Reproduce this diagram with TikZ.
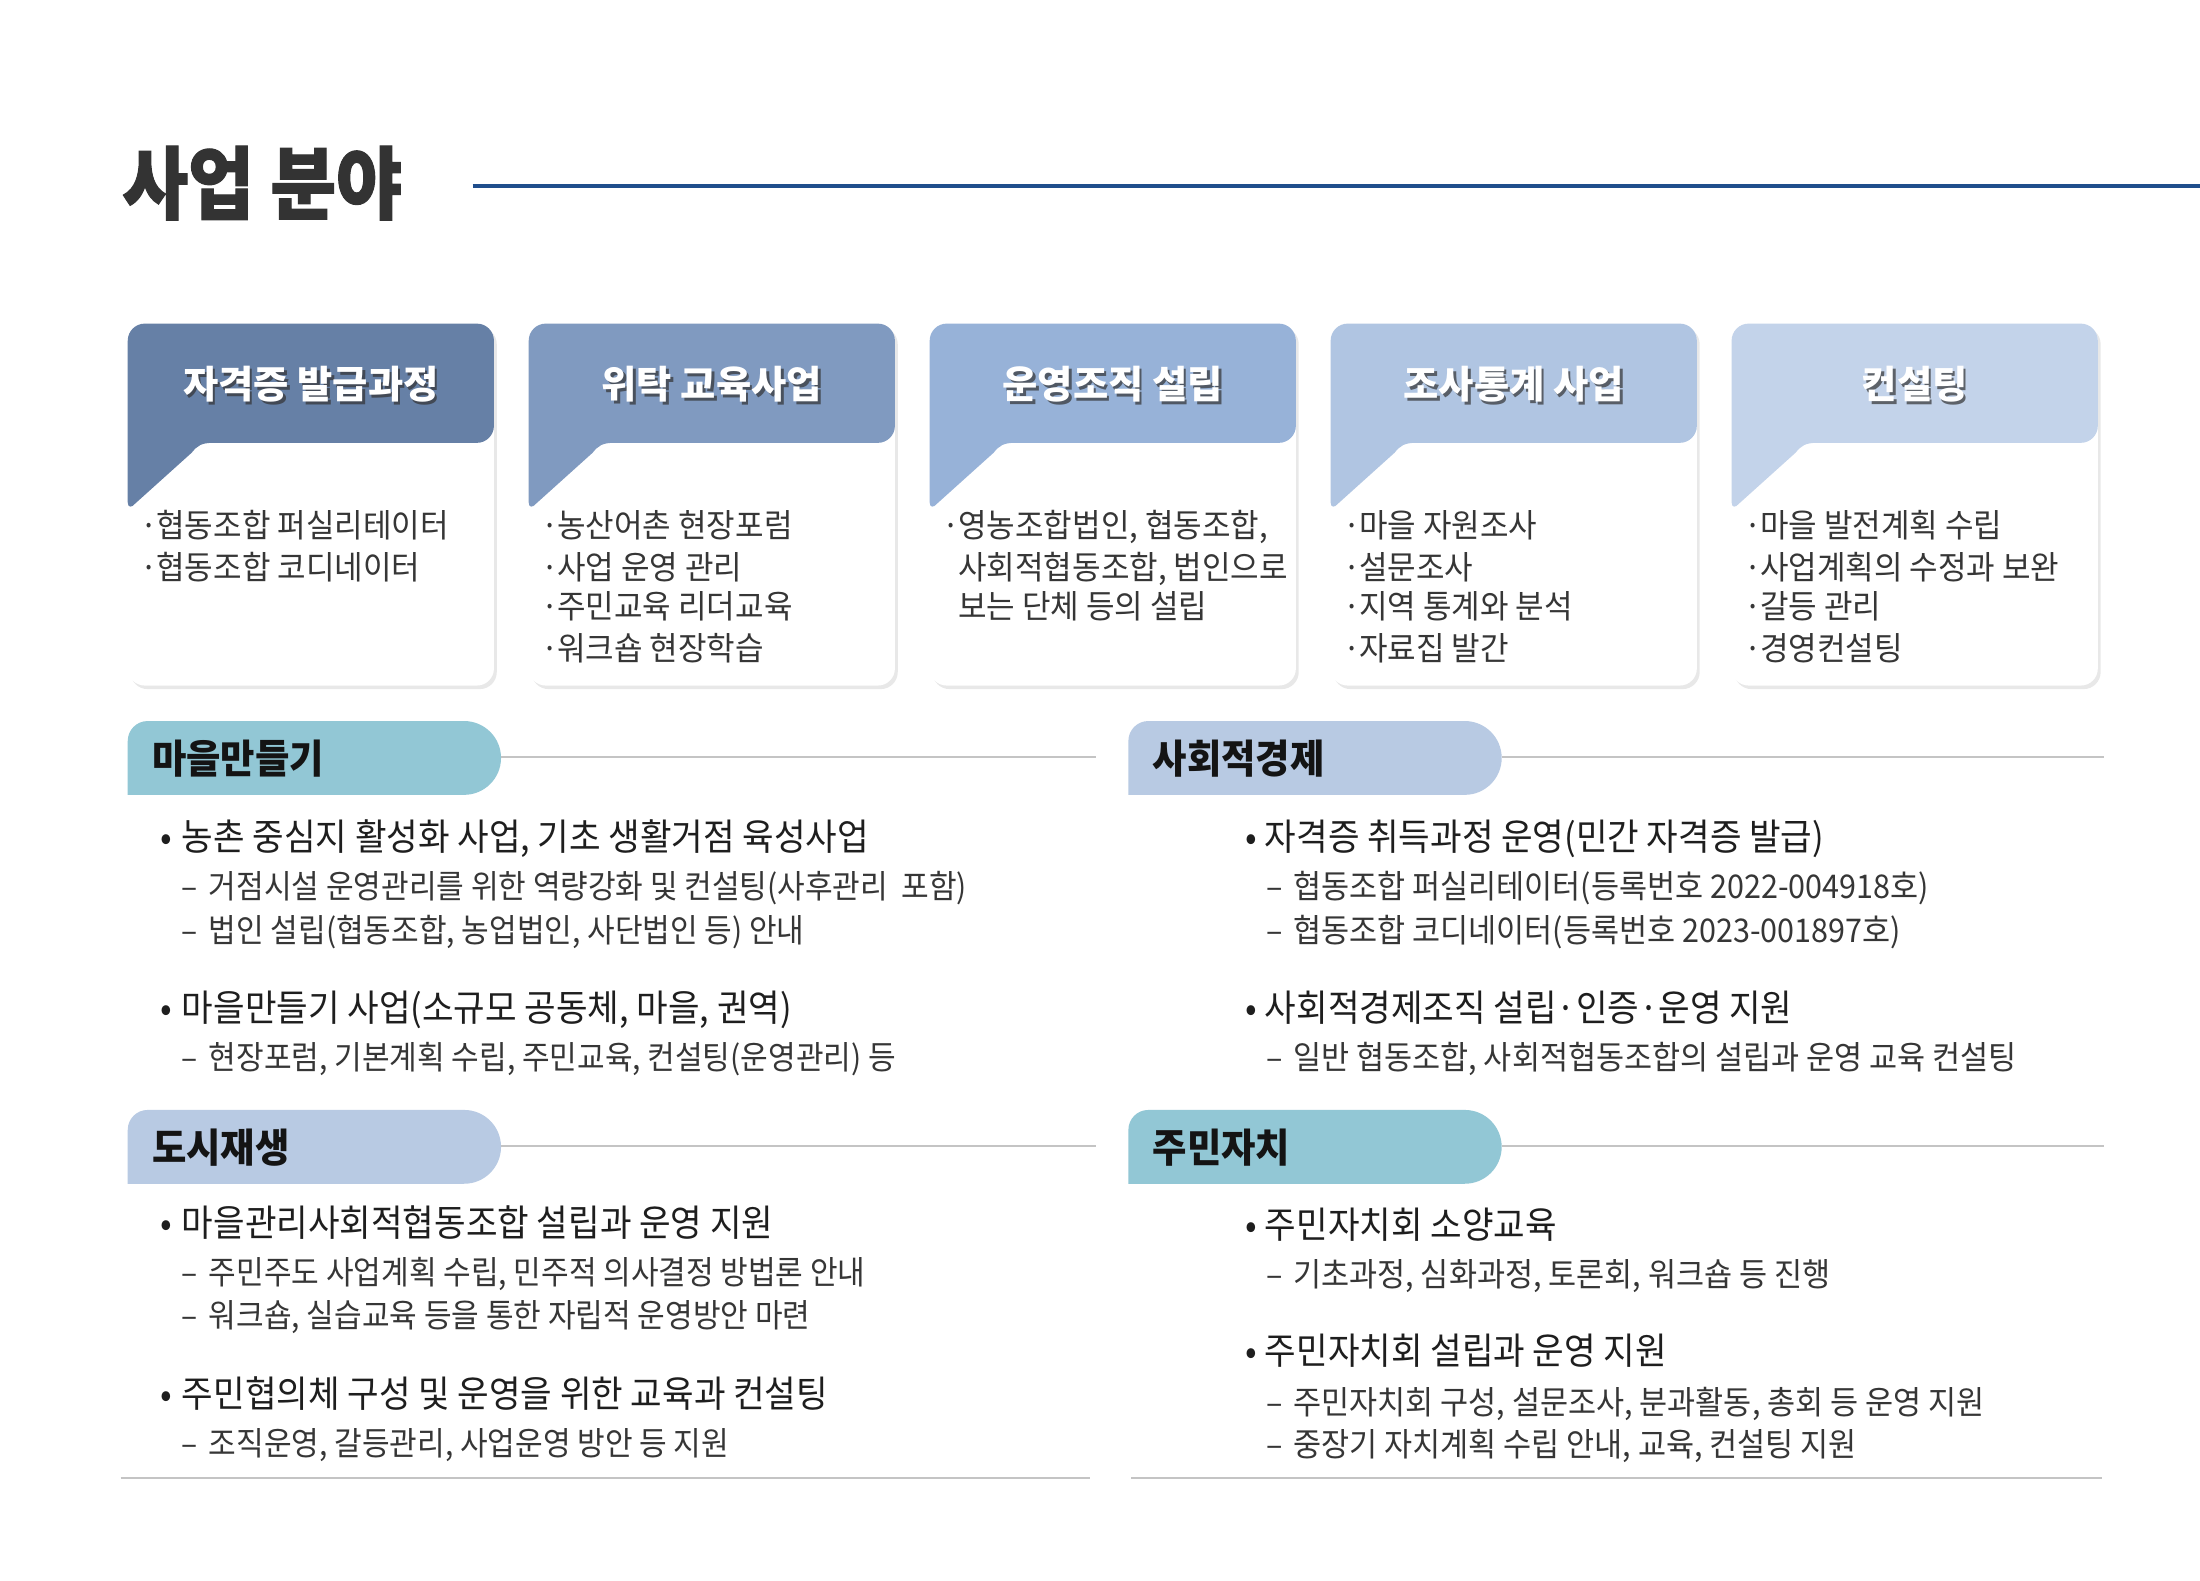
\documentclass[tikz,border=0pt]{standalone}
\usepackage{fontspec}
\usetikzlibrary{shadows}
\newfontfamily\krbox{Noto Sans CJK KR}[FakeStretch=0.95]
\newfontfamily\krmain{Noto Sans CJK KR}[FakeStretch=0.93]
\newfontfamily\krsub{Noto Sans CJK KR}[FakeStretch=0.92]
\newfontfamily\krsubr{Noto Sans CJK KR}[FakeStretch=0.935]
\newfontfamily\krhdr{Noto Sans CJK KR}[FakeStretch=1.0]
\newfontfamily\krpill{Noto Sans CJK KR}[FakeStretch=0.94]
\newfontfamily\krt{Noto Sans CJK KR}[FakeStretch=0.9, BoldFeatures={FakeBold=1.3}]
\definecolor{titlegray}{HTML}{333333}
\definecolor{titleblue}{HTML}{1F4E8C}
\definecolor{hdrA}{HTML}{6680A6}
\definecolor{hdrB}{HTML}{809AC0}
\definecolor{hdrC}{HTML}{97B2D8}
\definecolor{hdrD}{HTML}{B0C5E2}
\definecolor{hdrE}{HTML}{C3D3EA}
\definecolor{pillteal}{HTML}{92C7D5}
\definecolor{pillblue}{HTML}{B8CAE3}
\definecolor{rulegray}{HTML}{C4C4C4}
\definecolor{textdark}{HTML}{1E1E1E}
\definecolor{textgray}{HTML}{363636}
\begin{document}
\begin{tikzpicture}[x=1pt,y=-1pt,
  txt/.style={inner sep=0pt, anchor=base west},
  boxtxt/.style={txt, font=\krbox\fontsize{23}{28}\selectfont, text=textgray},
  maintxt/.style={txt, font=\krmain\fontsize{26}{30}\selectfont, text=textdark},
  subtxt/.style={txt, font=\krsub\fontsize{23}{28}\selectfont, text=textgray},
  subtxtr/.style={txt, font=\krsubr\fontsize{23}{28}\selectfont, text=textgray},
  hdrtxt/.style={inner sep=0pt, anchor=base, font=\krhdr\bfseries\fontsize{27}{30}\selectfont, text=white},
  hdrshade/.style={hdrtxt, text=black!80, opacity=0.7},
  pilltxt/.style={txt, font=\krpill\bfseries\fontsize{28}{32}\selectfont, text=black!92},
  card/.style={fill=white, rounded corners=12pt, inner sep=0pt, minimum width=258pt, minimum height=255pt,
     drop shadow={opacity=0.18, shadow xshift=2pt, shadow yshift=-2.5pt}},
  rule/.style={draw=rulegray, line width=1.5pt},
]
\useasboundingbox (0,0) rectangle (1550,1113.2);
\fill[white] (0,0) rectangle (1550,1113.2);

% title
\node[txt, font=\krt\bfseries\fontsize{56}{60}\selectfont, text=titlegray] (title) at (86,150) {사업 분야};
\coordinate (tl1) at (333,131);
\coordinate (tl2) at (1550,131);
\draw[titleblue, line width=3pt] (tl1) -- (tl2);

% cards
\foreach \i/\col in {0/hdrA,1/hdrB,2/hdrC,3/hdrD,4/hdrE}{
  \pgfmathsetmacro\L{90+282.5*\i}
  \node[card] (card\i) at ({\L+129},355.5) {};
  \begin{scope}[shift={(\L,228)}]
    \fill[\col] (0,12) .. controls (0,5.37) and (5.37,0) .. (12,0) -- (246,0)
      .. controls (252.63,0) and (258,5.37) .. (258,12) -- (258,72)
      .. controls (258,78.63) and (252.63,84) .. (246,84) -- (60,84)
      .. controls (52,84) and (49,86) .. (45,91) -- (5,127)
      .. controls (3,129.5) and (0,130) .. (0,126) -- cycle;
  \end{scope}
}

% header texts
\foreach \i/\t in {0/자격증 발급과정,1/위탁 교육사업,2/운영조직 설립,3/조사통계 사업,4/컨설팅}{
  \pgfmathsetmacro\C{90+282.5*\i+129}
  \node[hdrshade] (hs\i) at ({\C+1.8},282.6) {\t};
  \node[hdrtxt] (h\i) at (\C,280.7) {\t};
}

% card body texts
\node[boxtxt] (bd01) at (99,379) {·};
\node[boxtxt] (bt01) at (110,379) {협동조합 퍼실리테이터};
\node[boxtxt] (bd02) at (99,408) {·};
\node[boxtxt] (bt02) at (110,408) {협동조합 코디네이터};

\node[boxtxt] (bd11) at (381.5,379) {·};
\node[boxtxt] (bt11) at (392.5,379) {농산어촌 현장포럼};
\node[boxtxt] (bd12) at (381.5,408) {·};
\node[boxtxt] (bt12) at (392.5,408) {사업 운영 관리};
\node[boxtxt] (bd13) at (381.5,436) {·};
\node[boxtxt] (bt13) at (392.5,436) {주민교육 리더교육};
\node[boxtxt] (bd14) at (381.5,465) {·};
\node[boxtxt] (bt14) at (392.5,465) {워크숍 현장학습};

\node[boxtxt] (bd21) at (664,379) {·};
\node[boxtxt] (bt21) at (675,379) {영농조합법인, 협동조합,};
\node[boxtxt] (bt22) at (675,408) {사회적협동조합, 법인으로};
\node[boxtxt] (bt23) at (675,436) {보는 단체 등의 설립};

\node[boxtxt] (bd31) at (946.5,379) {·};
\node[boxtxt] (bt31) at (957.5,379) {마을 자원조사};
\node[boxtxt] (bd32) at (946.5,408) {·};
\node[boxtxt] (bt32) at (957.5,408) {설문조사};
\node[boxtxt] (bd33) at (946.5,436) {·};
\node[boxtxt] (bt33) at (957.5,436) {지역 통계와 분석};
\node[boxtxt] (bd34) at (946.5,465) {·};
\node[boxtxt] (bt34) at (957.5,465) {자료집 발간};

\node[boxtxt] (bd41) at (1229,379) {·};
\node[boxtxt] (bt41) at (1240,379) {마을 발전계획 수립};
\node[boxtxt] (bd42) at (1229,408) {·};
\node[boxtxt] (bt42) at (1240,408) {사업계획의 수정과 보완};
\node[boxtxt] (bd43) at (1229,436) {·};
\node[boxtxt] (bt43) at (1240,436) {갈등 관리};
\node[boxtxt] (bd44) at (1229,465) {·};
\node[boxtxt] (bt44) at (1240,465) {경영컨설팅};

% section pills
\foreach \nm/\x/\y/\col/\t in {p1/90/508/pillteal/마을만들기, p2/795/508/pillblue/사회적경제,
   p3/90/782/pillblue/도시재생, p4/795/782/pillteal/주민자치}{
  \begin{scope}[shift={(\x,\y)}]
    \fill[\col] (0,52) -- (0,14) .. controls (0,6.27) and (6.27,0) .. (14,0) -- (237,0)
      .. controls (251.36,0) and (263,11.64) .. (263,26)
      .. controls (263,40.36) and (251.36,52) .. (237,52) -- cycle;
    \coordinate (\nm e) at (263,25.5);
  \end{scope}
  \node[pilltxt] (\nm t) at ({\x+17},{\y+37}) {\t};
}
\coordinate (r1) at (772,533.5);
\coordinate (r2) at (1482,533.5);
\coordinate (r3) at (772,807.5);
\coordinate (r4) at (1482,807.5);
\draw[rule] (p1e) -- (r1);
\draw[rule] (p2e) -- (r2);
\draw[rule] (p3e) -- (r3);
\draw[rule] (p4e) -- (r4);
\coordinate (b1a) at (85,1041); \coordinate (b1b) at (768,1041);
\coordinate (b2a) at (797,1041); \coordinate (b2b) at (1481,1041);
\draw[rule] (b1a) -- (b1b);
\draw[rule] (b2a) -- (b2b);

% left column
\node[maintxt] (la0) at (113,599.4) {•};
\node[maintxt] (la) at (128,599.4) {농촌 중심지 활성화 사업, 기초 생활거점 육성사업};
\node[subtxt] (la1d) at (128,633.3) {–};
\node[subtxt] (la1) at (147,633.3) {거점시설 운영관리를 위한 역량강화 및 컨설팅(사후관리\ \ 포함)};
\node[subtxt] (la2d) at (128,664.3) {–};
\node[subtxt] (la2) at (147,664.3) {법인 설립(협동조합, 농업법인, 사단법인 등) 안내};
\node[maintxt] (lb0) at (113,719.4) {•};
\node[maintxt] (lb) at (128,719.4) {마을만들기 사업(소규모 공동체, 마을, 권역)};
\node[subtxt] (lb1d) at (128,753.3) {–};
\node[subtxt] (lb1) at (147,753.3) {현장포럼, 기본계획 수립, 주민교육, 컨설팅(운영관리) 등};
\node[maintxt] (lc0) at (113,871.4) {•};
\node[maintxt] (lc) at (128,871.4) {마을관리사회적협동조합 설립과 운영 지원};
\node[subtxt] (lc1d) at (128,905.3) {–};
\node[subtxt] (lc1) at (147,905.3) {주민주도 사업계획 수립, 민주적 의사결정 방법론 안내};
\node[subtxt] (lc2d) at (128,935.3) {–};
\node[subtxt] (lc2) at (147,935.3) {워크숍, 실습교육 등을 통한 자립적 운영방안 마련};
\node[maintxt] (ld0) at (113,991.4) {•};
\node[maintxt] (ld) at (128,991.4) {주민협의체 구성 및 운영을 위한 교육과 컨설팅};
\node[subtxt] (ld1d) at (128,1025.3) {–};
\node[subtxt] (ld1) at (147,1025.3) {조직운영, 갈등관리, 사업운영 방안 등 지원};

% right column
\node[maintxt] (ra0) at (877,599.4) {•};
\node[maintxt] (ra) at (891,599.4) {자격증 취득과정 운영(민간 자격증 발급)};
\node[subtxtr] (ra1d) at (892,633.3) {–};
\node[subtxtr] (ra1) at (911,633.3) {협동조합 퍼실리테이터(등록번호 2022-004918호)};
\node[subtxtr] (ra2d) at (892,664.3) {–};
\node[subtxtr] (ra2) at (911,664.3) {협동조합 코디네이터(등록번호 2023-001897호)};
\node[maintxt] (rb0) at (877,719.4) {•};
\node[maintxt] (rb) at (891,719.4) {사회적경제조직 설립·인증·운영 지원};
\node[subtxtr] (rb1d) at (892,753.3) {–};
\node[subtxtr] (rb1) at (911,753.3) {일반 협동조합, 사회적협동조합의 설립과 운영 교육 컨설팅};
\node[maintxt] (rc0) at (877,872.4) {•};
\node[maintxt] (rc) at (891,872.4) {주민자치회 소양교육};
\node[subtxtr] (rc1d) at (892,906.3) {–};
\node[subtxtr] (rc1) at (911,906.3) {기초과정, 심화과정, 토론회, 워크숍 등 진행};
\node[maintxt] (rd0) at (877,961.4) {•};
\node[maintxt] (rd) at (891,961.4) {주민자치회 설립과 운영 지원};
\node[subtxtr] (rd1d) at (892,996.3) {–};
\node[subtxtr] (rd1) at (911,996.3) {주민자치회 구성, 설문조사, 분과활동, 총회 등 운영 지원};
\node[subtxtr] (rd2d) at (892,1026.3) {–};
\node[subtxtr] (rd2) at (911,1026.3) {중장기 자치계획 수립 안내, 교육, 컨설팅 지원};
\end{tikzpicture}
\end{document}
